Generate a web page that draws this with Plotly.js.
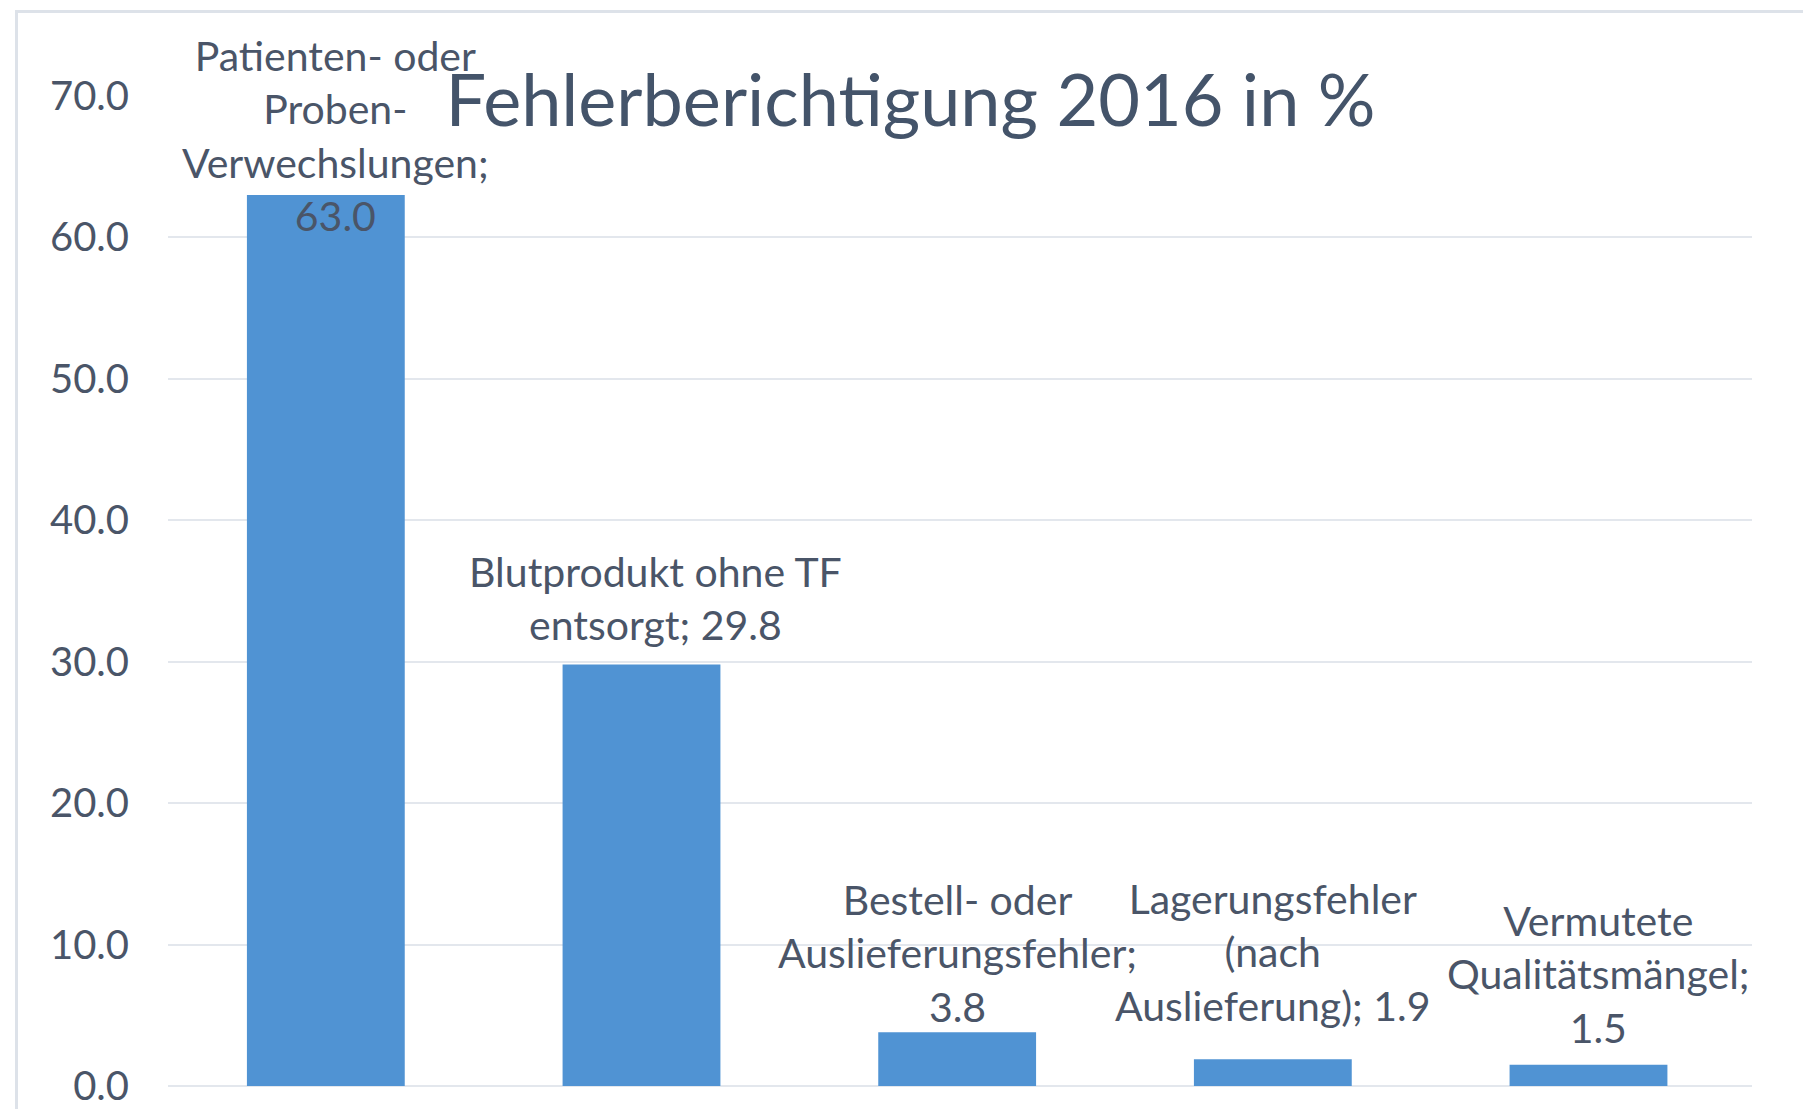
<!DOCTYPE html>
<html>
<head>
<meta charset="utf-8">
<script src="https://cdn.plot.ly/plotly-3.0.1.min.js"></script>
<style>
  html, body { margin: 0; padding: 0; background: #ffffff; overflow: hidden; }
  #chart { width: 1803px; height: 1109px; }
  #frame { position: absolute; left: 15px; top: 10px; width: 2000px; height: 2000px;
           border-left: 3px solid #dde2e9; border-top: 3px solid #dde2e9; pointer-events: none; }
</style>
</head>
<body>
<div id="chart"></div>
<div id="frame"></div>
<script>
// ---- data ----
const categories = [
  "Patienten- oder Proben-Verwechslungen",
  "Blutprodukt ohne TF entsorgt",
  "Bestell- oder Auslieferungsfehler",
  "Lagerungsfehler (nach Auslieferung)",
  "Vermutete Qualitätsmängel"
];
const values = [63.0, 29.8, 3.8, 1.9, 1.5];
const labelLines = [
  "Patienten- oder<br>Proben-<br>Verwechslungen;<br>",
  "Blutprodukt ohne TF<br>entsorgt; ",
  "Bestell- oder<br>Auslieferungsfehler;<br>",
  "Lagerungsfehler<br>(nach<br>Auslieferung); ",
  "Vermutete<br>Qualitätsmängel;<br>"
];
const yTicks = [0, 10, 20, 30, 40, 50, 60, 70];
const chartTitle = "Fehlerberichtigung 2016 in %";

// ---- style ----
const textColor = "#4a5568";
const fontFam = "Lato, 'Open Sans', sans-serif";
// label placement offsets (pixels), mimicking the original's label layout
const labelYShift = [-47, 14, -1, 27, 11];
const labelXShift = [10, 14, 0, 0, 10];

const trace = {
  type: "bar",
  x: categories,
  y: values,
  marker: { color: "#5093d3", line: { width: 0 } },
  hoverinfo: "none"
};

const annotations = categories.map((c, i) => ({
  x: c,
  y: values[i],
  xref: "x",
  yref: "y",
  text: labelLines[i] + values[i].toFixed(1),
  showarrow: false,
  xanchor: "center",
  yanchor: "bottom",
  yshift: labelYShift[i],
  xshift: labelXShift[i],
  align: "center",
  font: { family: fontFam, size: 41, color: textColor }
}));

const layout = {
  width: 1803,
  height: 1109,
  paper_bgcolor: "rgba(0,0,0,0)",
  plot_bgcolor: "rgba(0,0,0,0)",
  margin: { l: 168, r: 51, t: 96, b: 23 },
  bargap: 0.5,
  showlegend: false,
  title: {
    text: chartTitle,
    xref: "container",
    yref: "container",
    x: 0.505,
    y: 0.909,
    xanchor: "center",
    yanchor: "middle",
    font: { family: fontFam, size: 72, color: "#44546a" }
  },
  xaxis: {
    type: "category",
    showticklabels: false,
    showgrid: false,
    zeroline: false,
    showline: false,
    ticks: ""
  },
  yaxis: {
    range: [0, 70],
    tickvals: yTicks,
    tickformat: ".1f",
    showgrid: true,
    gridcolor: "#e3e7ed",
    gridwidth: 2,
    zeroline: true,
    zerolinecolor: "#e3e7ed",
    zerolinewidth: 2,
    showline: false,
    ticks: "",
    ticklabelstandoff: 38,
    tickfont: { family: fontFam, size: 40, color: textColor }
  },
  annotations: annotations
};

Plotly.newPlot("chart", [trace], layout, { displayModeBar: false, staticPlot: true });
</script>
</body>
</html>
